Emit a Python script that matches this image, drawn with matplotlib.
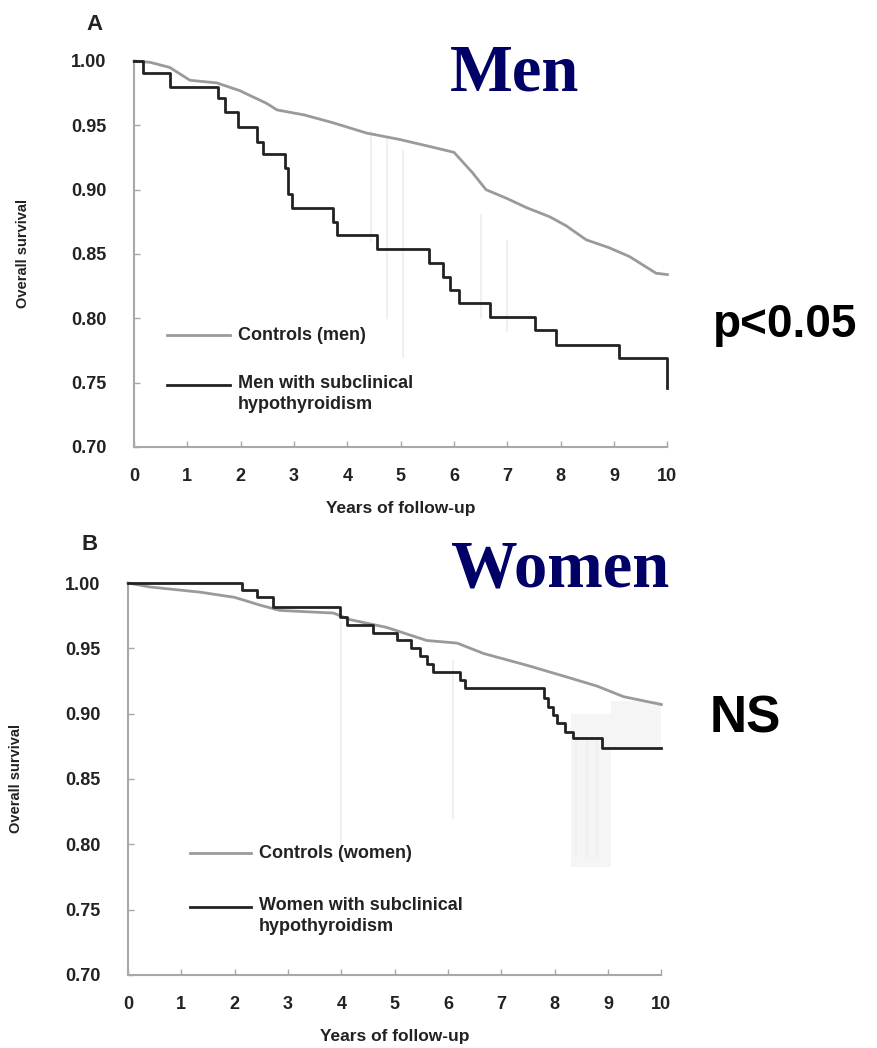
import matplotlib
matplotlib.use('Agg')
import matplotlib.pyplot as plt

# --- data ---
years_ticks = list(range(0, 11))
surv_ticks = [0.70, 0.75, 0.80, 0.85, 0.90, 0.95, 1.00]

# A: men
men_ctrl_t = [0, 0.3, 0.67, 1.05, 1.55, 1.98, 2.49, 2.68, 3.2, 3.73, 4.36, 4.98, 5.6, 6.0,
              6.35, 6.6, 7.0, 7.36, 7.79, 8.1, 8.48, 8.9, 9.29, 9.79, 10.0]
men_ctrl_s = [1.0, 0.999, 0.995, 0.985, 0.983, 0.977, 0.967, 0.962, 0.958, 0.952, 0.944, 0.939,
              0.933, 0.929, 0.913, 0.900, 0.893, 0.886, 0.879, 0.872, 0.861, 0.855, 0.848, 0.835, 0.834]
men_sch_t = [0, 0.17, 0.67, 1.57, 1.7, 1.95, 2.3, 2.42, 2.83, 2.89, 2.97, 3.73, 3.8, 4.55,
             5.54, 5.79, 5.92, 6.1, 6.67, 7.51, 7.92, 9.1, 10.0, 10.0]
men_sch_s = [1.0, 0.991, 0.980, 0.971, 0.960, 0.949, 0.937, 0.928, 0.917, 0.897, 0.886, 0.875,
             0.865, 0.854, 0.843, 0.832, 0.822, 0.812, 0.801, 0.791, 0.779, 0.769, 0.769, 0.746]

# B: women
wom_ctrl_t = [0, 0.4, 1.35, 2.0, 2.48, 2.85, 3.85, 4.16, 4.85, 5.6, 6.17, 6.67, 7.48, 8.23,
              8.8, 9.29, 10.0]
wom_ctrl_s = [1.0, 0.997, 0.993, 0.989, 0.983, 0.979, 0.977, 0.972, 0.966, 0.956, 0.954,
              0.946, 0.937, 0.928, 0.921, 0.913, 0.907]
wom_sch_t = [0, 2.14, 2.42, 2.72, 3.98, 4.1, 4.6, 5.04, 5.3, 5.48, 5.6, 5.72, 6.23, 6.32,
             7.79, 7.88, 7.97, 8.05, 8.2, 8.35, 8.89, 10.0]
wom_sch_s = [1.0, 0.995, 0.989, 0.982, 0.974, 0.968, 0.962, 0.956, 0.950, 0.944, 0.938, 0.932,
             0.926, 0.920, 0.912, 0.905, 0.899, 0.893, 0.886, 0.881, 0.874, 0.874]

# faint vertical artefacts (year, low, high)
faint_a = [(4.45, 0.86, 0.945), (4.75, 0.80, 0.94), (5.05, 0.77, 0.93), (6.5, 0.80, 0.88),
           (7.0, 0.79, 0.86)]
faint_b = [(4.0, 0.80, 0.97), (6.1, 0.82, 0.94), (8.4, 0.79, 0.88), (8.6, 0.79, 0.88),
           (8.8, 0.79, 0.88)]

GRAY = '#9a9a9a'
SPINE = '#a8a8a8'
SANS = 'Liberation Sans'
SERIF = 'Liberation Serif'

fig = plt.figure(figsize=(8.78, 10.48), dpi=100)
axA = fig.add_axes([0.1526, 0.5735, 0.6075, 0.3683])
axB = fig.add_axes([0.1458, 0.0697, 0.6075, 0.3740])


def style(ax, ylab_x):
    ax.set_xlim(0, 10)
    ax.set_ylim(0.70, 1.00)
    for s in ['top', 'right']:
        ax.spines[s].set_visible(False)
    for s in ['left', 'bottom']:
        ax.spines[s].set_color(SPINE)
        ax.spines[s].set_linewidth(1.5)
    ax.set_xticks(years_ticks)
    ax.set_yticks(surv_ticks)
    ax.set_yticklabels(['%.2f' % v for v in surv_ticks])
    ax.tick_params(axis='both', direction='in', length=4, color=SPINE, width=1,
                   labelsize=13, labelcolor='#222222')
    ax.tick_params(axis='y', pad=20)
    ax.tick_params(axis='x', pad=15)
    for lab in ax.get_xticklabels() + ax.get_yticklabels():
        lab.set_fontfamily(SANS)
        lab.set_fontweight('bold')
    ax.set_xlabel('Years of follow-up', fontsize=12.5, fontweight='bold', family=SANS,
                  color='#222222', labelpad=12)
    ax.set_ylabel('Overall survival', fontsize=10.5, fontweight='bold', family=SANS,
                  color='#222222')
    ax.yaxis.set_label_coords(ylab_x, 0.5)


def legend(ax, x0, x1, y0, y1, lab0, lab1):
    ax.plot([x0, x1], [y0, y0], color=GRAY, lw=2, transform=ax.transAxes)
    ax.plot([x0, x1], [y1, y1], color='#222222', lw=2, transform=ax.transAxes)
    ax.text(x1 + 0.015, y0, lab0, transform=ax.transAxes, va='center', ha='left',
            fontsize=13, fontweight='bold', family=SANS, color='#222222')
    ax.text(x1 + 0.015, y1 + 0.026, lab1, transform=ax.transAxes, va='top', ha='left',
            fontsize=13, fontweight='bold', family=SANS, color='#222222', linespacing=1.3)


# panel A
for t, lo, hi in faint_a:
    axA.plot([t, t], [lo, hi], color='#f0f0f0', lw=1.5, zorder=1)
axA.plot(men_ctrl_t, men_ctrl_s, color=GRAY, lw=2, clip_on=False, zorder=3)
axA.step(men_sch_t, men_sch_s, where='post', color='#222222', lw=2, clip_on=False, zorder=4)
style(axA, -0.195)
legend(axA, 0.062, 0.18, 0.29, 0.161, 'Controls (men)', 'Men with subclinical\nhypothyroidism')

# panel B
axB.fill_between([8.3, 9.05], 0.783, 0.90, color='#f5f5f5', lw=0, zorder=1)
axB.fill_between([9.05, 10.0], 0.874, 0.91, color='#f5f5f5', lw=0, zorder=1)
for t, lo, hi in faint_b:
    axB.plot([t, t], [lo, hi], color='#f0f0f0', lw=1.5, zorder=1)
axB.plot(wom_ctrl_t, wom_ctrl_s, color=GRAY, lw=2, clip_on=False, zorder=3)
axB.step(wom_sch_t, wom_sch_s, where='post', color='#222222', lw=2, clip_on=False, zorder=4)
style(axB, -0.197)
legend(axB, 0.116, 0.231, 0.311, 0.173, 'Controls (women)', 'Women with subclinical\nhypothyroidism')

# panel letters and annotations
fig.text(95 / 878, 1 - 25 / 1048, 'A', fontsize=16, fontweight='bold', family=SANS,
         ha='center', va='center', color='#222222')
fig.text(90 / 878, 1 - 545 / 1048, 'B', fontsize=16, fontweight='bold', family=SANS,
         ha='center', va='center', color='#222222')
fig.text(515 / 878, 1 - 74 / 1048, 'Men', fontsize=48, fontweight='bold', family=SERIF,
         ha='center', va='center', color='#000066')
fig.text(560 / 878, 1 - 570 / 1048, 'Women', fontsize=48, fontweight='bold', family=SERIF,
         ha='center', va='center', color='#000066')
fig.text(785 / 878, 1 - 325 / 1048, 'p<0.05', fontsize=33, fontweight='bold', family=SANS,
         ha='center', va='center', color='black')
fig.text(745 / 878, 1 - 719 / 1048, 'NS', fontsize=37, fontweight='bold', family=SANS,
         ha='center', va='center', color='black')

plt.savefig('out.png', dpi=100)
